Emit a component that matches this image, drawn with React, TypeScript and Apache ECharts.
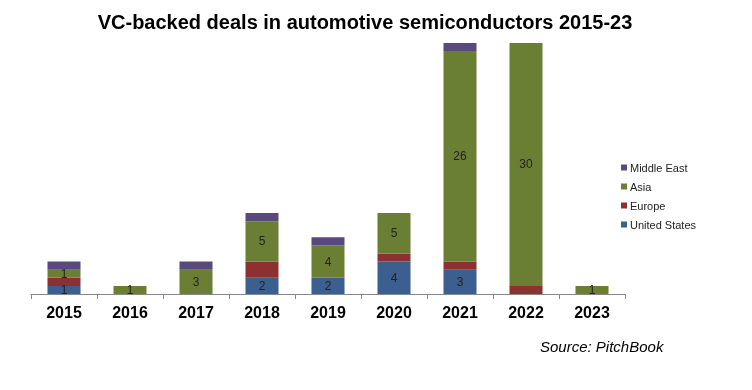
import React, { useEffect, useRef } from "react";
import * as echarts from "echarts";

const years = ["2015", "2016", "2017", "2018", "2019", "2020", "2021", "2022", "2023"];
const unitedStates = [1, 0, 0, 2, 2, 4, 3, 0, 0];
const europe = [1, 0, 0, 2, 0, 1, 1, 1, 0];
const asia = [1, 1, 3, 5, 4, 5, 26, 30, 1];
const middleEast = [1, 0, 1, 1, 1, 0, 1, 0, 0];

const colors = {
  us: "#3B5F8E",
  eu: "#8C3032",
  asia: "#6B7F34",
  me: "#594A7E",
};

const toData = (arr: number[]) => arr.map((v) => (v === 0 ? null : v));

export default function App() {
  const ref = useRef<HTMLDivElement>(null);
  useEffect(() => {
    if (!ref.current) return;
    const chart = echarts.init(ref.current, undefined, { renderer: "svg" });
    const label = {
      show: true,
      position: "inside" as const,
      color: "#222",
      fontSize: 12,
      fontFamily: "Liberation Sans, Arial, sans-serif",
    };
    const mk = (name: string, data: number[], color: string, showLabel: boolean) => ({
      name,
      type: "bar" as const,
      stack: "total",
      barWidth: "50%",
      data: toData(data),
      itemStyle: { color },
      label: showLabel ? label : { show: false },
    });
    chart.setOption({
      animation: false,
      title: {
        text: "VC-backed deals in automotive semiconductors 2015-23",
        left: 360,
        textAlign: "center",
        top: 7,
        textStyle: {
          fontFamily: "Liberation Sans, Arial, sans-serif",
          fontWeight: "bold",
          fontSize: 20,
          color: "#000",
        },
      },
      legend: {
        orient: "vertical",
        left: 616,
        top: 157,
        itemWidth: 6,
        itemHeight: 6,
        itemGap: 8,
        icon: "rect",
        data: ["Middle East", "Asia", "Europe", "United States"],
        textStyle: {
          fontFamily: "Liberation Sans, Arial, sans-serif",
          fontSize: 11,
          color: "#222",
          padding: [0, 0, 0, -2],
        },
      },
      grid: { left: 31, width: 594, top: 43, bottom: 96 },
      xAxis: {
        type: "category",
        data: years,
        axisLine: { lineStyle: { color: "#888", width: 1 } },
        axisTick: { show: true, lineStyle: { color: "#888" }, length: 5 },
        axisLabel: {
          fontFamily: "Liberation Sans, Arial, sans-serif",
          fontWeight: "bold",
          fontSize: 16,
          color: "#000",
          margin: 10,
        },
      },
      yAxis: {
        type: "value",
        min: 0,
        max: 31,
        show: false,
        splitLine: { show: false },
      },
      graphic: [
        {
          type: "text",
          left: 540,
          top: 339,
          style: {
            text: "Source: PitchBook",
            font: "italic 15px Liberation Sans, Arial, sans-serif",
            fill: "#000",
          },
        },
      ],
      series: [
        mk("United States", unitedStates, colors.us, true),
        mk("Europe", europe, colors.eu, false),
        mk("Asia", asia, colors.asia, true),
        mk("Middle East", middleEast, colors.me, false),
      ],
    });
    return () => chart.dispose();
  }, []);
  return (
    <div
      ref={ref}
      style={{ position: "fixed", left: 0, top: 0, width: 752, height: 390 }}
    />
  );
}
